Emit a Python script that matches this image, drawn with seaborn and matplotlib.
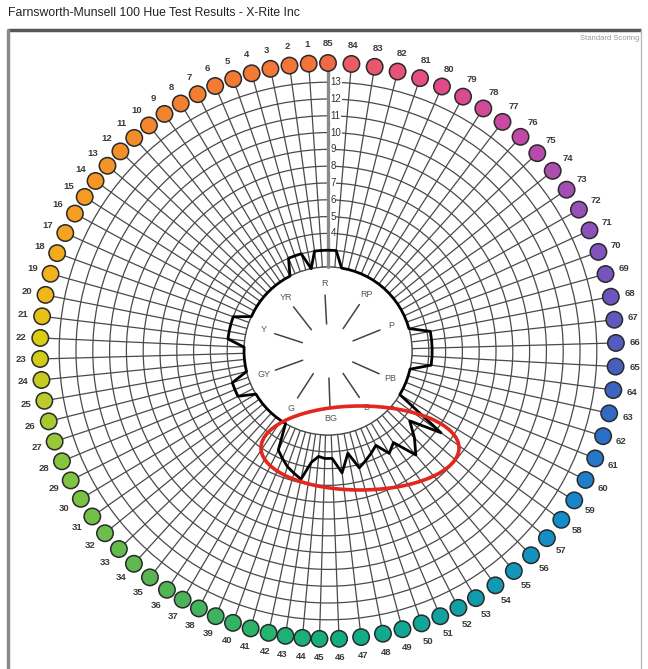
import numpy as np
import pandas as pd
import matplotlib
matplotlib.use("Agg")
import matplotlib.pyplot as plt
import seaborn as sns
from matplotlib.colors import LinearSegmentedColormap
from matplotlib.patches import Circle, Ellipse

# ---- data -------------------------------------------------------------
caps = list(range(1, 86))
# error score for each cap, 1..85 (2 = no error)
error_scores = [
    3, 3, 2, 3, 3, 3, 2, 2, 2, 2,                     # 1-10
    2, 2, 2, 2, 2, 2, 2, 3, 3, 3,                     # 11-20
    3, 2, 2, 2, 2, 2, 3, 3, 3, 2,                     # 21-30
    2, 2, 2, 2, 2, 2, 2, 3.6, 3.95, 4.3,              # 31-40
    4.55, 4.8, 3.7, 3.3, 3.4, 3.4, 4.3, 3.2, 4.2, 3.9,  # 41-50
    3.6, 3.3, 4.1, 3.7, 5.1, 4.3, 3.4, 5.3, 2, 2,     # 51-60
    2, 2, 2, 3.2, 3.2, 3.2, 3.2, 3.2, 2, 2,           # 61-70
    2, 2, 2, 2, 2, 2, 2, 2, 2, 2,                     # 71-80
    2, 2, 2, 3, 3,                                    # 81-85
]
ring_values = list(range(2, 14))
ring_labels = list(range(4, 14))
hue_names = ["R", "YR", "Y", "GY", "G", "BG", "B", "PB", "P", "RP"]
hue_angles = [93, 128, 162, 200, 237, 272, 304, 336, 22, 56]

# cap colour stops (cap number, colour)
color_stop_caps = [1, 8, 16, 20, 22, 25, 28, 36, 42, 46, 50, 53, 58, 62, 65, 68, 72, 76, 80, 84, 85]
color_stop_hex = ["#f4733a", "#f2802e", "#f59f22", "#efba18", "#dccb12", "#bccb2c",
                  "#86c63e", "#52b456", "#22b46e", "#12ae80", "#12a698", "#119cac",
                  "#138ccc", "#2a70c8", "#4460bc", "#6a56be", "#9650ba", "#c04aa8",
                  "#e04a8a", "#ee5a66", "#f06a48"]

# ---- geometry ---------------------------------------------------------
R_INNER = 84.0      # radius of score 2
R_STEP = 16.8       # radius per score unit
R_DOT = 288.0
R_LABEL = 307.0
# angular layout of the cap ring (cap number -> degrees, counter-clockwise)
ANGLE_KNOT_CAP = [0, 16, 22, 29, 36, 42, 45.5, 48, 53, 60, 66, 72, 85]
ANGLE_KNOT_DEG = [90, 151.5, 177.4, 206.7, 236.0, 258.1, 270.0, 281.0, 300.9,
                  333.4, 361.6, 389.4, 450.0]


def cap_angle(c):
    c = np.asarray(c, dtype=float) % 85
    return np.interp(c, ANGLE_KNOT_CAP, ANGLE_KNOT_DEG)


def score_radius(v):
    return R_INNER + (np.asarray(v, dtype=float) - 2) * R_STEP


def to_xy(theta_deg, r):
    t = np.deg2rad(theta_deg)
    return r * np.cos(t), r * np.sin(t)


sns.set_theme(style="white")
plt.rcParams["font.family"] = ["Liberation Sans", "DejaVu Sans"]

fig = plt.figure(figsize=(6.48, 6.69), dpi=100)
ax = fig.add_axes([0, 0, 1, 1])
ax.set_xlim(-328, 320)
ax.set_ylim(-318, 351)
ax.axis("off")

grid_col = "#4a4a4a"
theta_all = cap_angle(caps)

# spokes
for th in theta_all:
    x0, y0 = to_xy(th, R_INNER)
    x1, y1 = to_xy(th, R_DOT)
    ax.plot([x0, x1], [y0, y1], color=grid_col, lw=0.9, zorder=1)

# rings
for v in ring_values:
    ax.add_patch(Circle((0, 0), score_radius(v), fill=False, ec=grid_col, lw=0.9, zorder=1))

# centre disc
ax.add_patch(Circle((0, 0), R_INNER, fc="white", ec=grid_col, lw=0.9, zorder=2))

# thick reference spoke for cap 85 with score labels
x0, y0 = to_xy(90, R_INNER)
x1, y1 = to_xy(90, R_DOT)
ax.plot([x0, x1], [y0, y1], color="#8a8a8a", lw=2.4, zorder=3)
for v in ring_labels:
    ax.text(2.5, score_radius(v), str(v), fontsize=7, color="#333333",
            ha="left", va="center", zorder=4,
            bbox=dict(boxstyle="square,pad=0.05", fc="white", ec="none"))

# hue sector labels inside the disc
for name, ang in zip(hue_names, hue_angles):
    xa, ya = to_xy(ang, 27)
    xb, yb = to_xy(ang, 56)
    ax.plot([xa, xb], [ya, yb], color="#444444", lw=1.1, zorder=3)
    xt, yt = to_xy(ang, 68)
    ax.text(xt, yt, name, fontsize=6.5, color="#555555", ha="center", va="center", zorder=3)

# error score polyline
err_df = pd.DataFrame({"cap": caps + [caps[0]], "score": error_scores + [error_scores[0]]})
err_df["theta"] = cap_angle(err_df["cap"])
err_df["r"] = score_radius(err_df["score"])
err_df["x"], err_df["y"] = to_xy(err_df["theta"], err_df["r"])
sns.lineplot(data=err_df, x="x", y="y", sort=False, estimator=None,
             color="black", lw=2.0, ax=ax, zorder=5)

# coloured caps
cmap = LinearSegmentedColormap.from_list(
    "caps", list(zip((np.array(color_stop_caps) - 1) / 84, color_stop_hex)))
cap_df = pd.DataFrame({"cap": caps})
cap_df["x"], cap_df["y"] = to_xy(theta_all, R_DOT)
cap_df["color"] = [cmap((c - 1) / 84) for c in caps]
sns.scatterplot(data=cap_df, x="x", y="y", c=cap_df["color"].tolist(), s=140,
                edgecolor="#2a2a2a", linewidth=1.1, ax=ax, zorder=6, legend=False)
for c, th in zip(caps, theta_all):
    xt, yt = to_xy(th, R_LABEL)
    ax.text(xt, yt, str(c), fontsize=6.8, fontweight="bold", color="#3a3a3a",
            ha="center", va="center", zorder=6)

# highlighted region
ax.add_patch(Ellipse((32, -97), 198, 84, angle=0, fill=False, ec="#e3261e", lw=2.6, zorder=7))

# frame
ax.plot([-320, 313], [321, 321], color="#555555", lw=2.5, zorder=8, solid_capstyle="butt")
ax.plot([-320, -320], [321, -318], color="#8a8a8a", lw=2.5, zorder=8)
ax.plot([313, 313], [321, -318], color="#bbbbbb", lw=1.0, zorder=8)
ax.text(311, 313, "Standard Scoring", fontsize=5.5, color="#9a9a9a", ha="right", va="center")

fig.text(8 / 648, 1 - 13 / 669, "Farnsworth-Munsell 100 Hue Test Results - X-Rite Inc",
         fontsize=8.8, color="#222222", ha="left", va="center")

fig.savefig("out.png", dpi=100, facecolor="white")
